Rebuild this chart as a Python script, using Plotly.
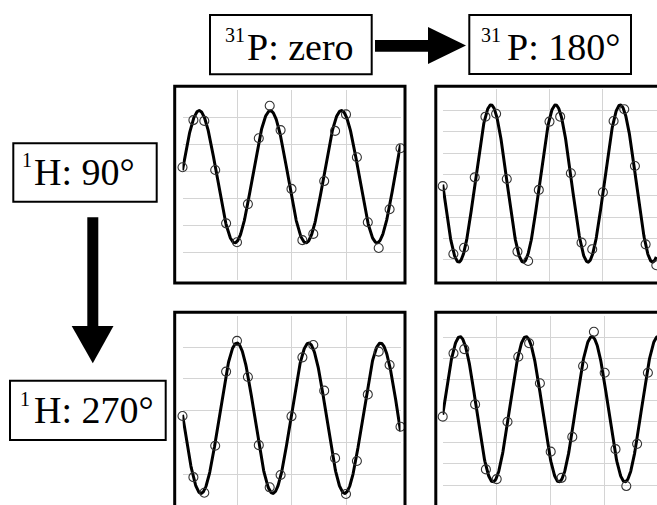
import numpy as np
import plotly.graph_objects as go

W, H = 657, 505

# acquisition times (arb. units), shared by the four panels
t = [0.0, 0.2, 0.4, 0.6, 0.8, 1.0, 1.2, 1.4, 1.6, 1.8, 2.0,
     2.2, 2.4, 2.6, 2.8, 3.0, 3.2, 3.4, 3.6, 3.8, 4.0]

# measured signal, one list per phase combination
sig_h90_p0 = [4.15, 5.89, 5.86, 4.05, 2.08, 1.38, 2.79, 5.22, 6.42, 5.52, 3.35,
              1.46, 1.69, 3.64, 5.49, 6.10, 4.52, 2.12, 1.17, 2.60, 4.85]
sig_h90_p180 = [4.46, 1.28, 1.57, 4.87, 7.71, 7.85, 4.79, 1.39, 0.95, 4.28, 7.48,
                7.71, 5.06, 1.81, 1.50, 4.17, 7.51, 8.06, 5.40, 1.73, 0.75]
sig_h270_p0 = [2.83, 0.90, 0.41, 1.89, 4.23, 5.20, 4.06, 1.91, 0.58, 0.97, 2.82,
               4.68, 5.07, 3.63, 1.50, 0.37, 1.41, 3.51, 4.86, 4.44, 2.49]
sig_h270_p180 = [4.24, 7.24, 7.44, 4.82, 1.74, 1.28, 4.00, 7.08, 7.72, 5.82, 2.58,
                 1.34, 3.28, 6.64, 8.26, 6.32, 2.70, 0.95, 2.95, 6.32, 8.26]

# fitted cosine: offset, amplitude, period, time of a maximum
fit_h90_p0 = (3.80, 2.44, 1.305, 0.306)
fit_h90_p180 = (4.58, 3.68, 1.210, 0.905)
fit_h270_p0 = (2.76, 2.37, 1.318, 0.998)
fit_h270_p180 = (4.59, 3.44, 1.222, 0.320)

t_fit = np.linspace(0.0, 4.0, 600)


def model(p):
    off, amp, per, tmax = p
    return off + amp * np.cos(2 * np.pi * (t_fit - tmax) / per)


def fx(x):
    return x / W


def fy(y):
    return 1 - y / H


# panel geometry: (x0 px, px per unit, x range end, y px of value 0, px per unit, y top value)
panels = [
    dict(sig=sig_h90_p0, fit=fit_h90_p0, x0=182.5, sx=54.5, xr=4.0, y0=279.7, sy=27.1, ytop=7),
    dict(sig=sig_h90_p180, fit=fit_h90_p180, x0=442.7, sx=53.4, xr=None, y0=281.3, sy=21.35, ytop=9),
    dict(sig=sig_h270_p0, fit=fit_h270_p0, x0=182.5, sx=54.5, xr=4.0, y0=505.7, sy=31.7, ytop=6),
    dict(sig=sig_h270_p180, fit=fit_h270_p180, x0=442.7, sx=54.0, xr=None, y0=506.1, sy=21.1, ytop=9),
]

fig = go.Figure()
layout = {}
for i, p in enumerate(panels, start=1):
    xa = "x" if i == 1 else f"x{i}"
    ya = "y" if i == 1 else f"y{i}"
    fig.add_trace(go.Scatter(x=t_fit, y=model(p["fit"]), mode="lines",
                             line=dict(color="black", width=3),
                             xaxis=xa, yaxis=ya, showlegend=False, hoverinfo="skip"))
    fig.add_trace(go.Scatter(x=t, y=p["sig"], mode="markers",
                             marker=dict(symbol="circle-open", size=9,
                                         color="#333333", line=dict(width=1.1)),
                             cliponaxis=False,
                             xaxis=xa, yaxis=ya, showlegend=False))
    # x axis
    x_end_px = p["x0"] + p["sx"] * p["xr"] if p["xr"] is not None else W
    x_max = (x_end_px - p["x0"]) / p["sx"]
    # y axis
    y_top_px = p["y0"] - p["sy"] * p["ytop"]
    y_bot_px = min(p["y0"], H)
    y_min = (p["y0"] - y_bot_px) / p["sy"]
    axcommon = dict(showgrid=True, gridcolor="#d4d4d4", gridwidth=1, dtick=1, tick0=0,
                    showticklabels=False, ticks="", zeroline=False, showline=False,
                    fixedrange=True)
    layout["xaxis" if i == 1 else f"xaxis{i}"] = dict(
        domain=[fx(p["x0"]), fx(x_end_px)], range=[0, x_max],
        anchor=ya, **axcommon)
    layout["yaxis" if i == 1 else f"yaxis{i}"] = dict(
        domain=[fy(y_bot_px), fy(y_top_px)], range=[y_min, p["ytop"]],
        anchor=xa, **axcommon)

shapes = []
# panel frames
for x0, x1, y0, y1 in [(174.7, 405, 86.3, 283), (435.8, 720, 86.3, 283),
                       (174.7, 405, 312.2, 560), (435.8, 720, 312.2, 560)]:
    shapes.append(dict(type="rect", xref="paper", yref="paper",
                       x0=fx(x0), x1=fx(x1), y0=fy(y1), y1=fy(y0),
                       line=dict(color="black", width=3), layer="above"))
# label boxes
for x0, x1, y0, y1 in [(210, 371.7, 15, 74.3), (469.3, 631, 15, 74),
                       (13.3, 156.7, 143.3, 201.7), (10, 165.7, 380.7, 440)]:
    shapes.append(dict(type="rect", xref="paper", yref="paper",
                       x0=fx(x0), x1=fx(x1), y0=fy(y1), y1=fy(y0),
                       line=dict(color="black", width=2)))


def poly(pts):
    d = "M " + " L ".join(f"{fx(a):.5f},{fy(b):.5f}" for a, b in pts) + " Z"
    return dict(type="path", xref="paper", yref="paper", path=d,
                fillcolor="black", line=dict(width=0))


# arrows
shapes.append(poly([(375, 40), (430, 40), (430, 51.7), (375, 51.7)]))
shapes.append(poly([(428, 27), (466, 45.5), (428, 64)]))
shapes.append(poly([(87.3, 217.3), (98.3, 217.3), (98.3, 328), (87.3, 328)]))
shapes.append(poly([(71.7, 326), (113.5, 326), (92.8, 363.3)]))

FONT = "Liberation Serif, Times New Roman, serif"
S_MAIN, S_SUP = 38, 20
annotations = []


def label(sup, main, sup_right, main_left, baseline):
    annotations.append(dict(text=main, xref="paper", yref="paper",
                            x=fx(main_left - 1.5), y=fy(baseline - 0.3375 * S_MAIN),
                            xanchor="left", yanchor="middle", showarrow=False,
                            font=dict(family=FONT, size=S_MAIN, color="black")))
    annotations.append(dict(text=sup, xref="paper", yref="paper",
                            x=fx(sup_right + 1.5), y=fy(baseline - 18 - 0.3375 * S_SUP),
                            xanchor="right", yanchor="middle", showarrow=False,
                            font=dict(family=FONT, size=S_SUP, color="black")))


label("31", "P: zero", 245, 246.7, 60)
label("31", "P: 180°", 501.7, 506, 60)
label("1", "H: 90°", 32, 33.3, 185)
label("1", "H: 270°", 30.7, 33.3, 423.3)

fig.update_layout(width=W, height=H, margin=dict(l=0, r=0, t=0, b=0),
                  paper_bgcolor="white", plot_bgcolor="white",
                  shapes=shapes, annotations=annotations, **layout)

fig.write_html("out.html")
